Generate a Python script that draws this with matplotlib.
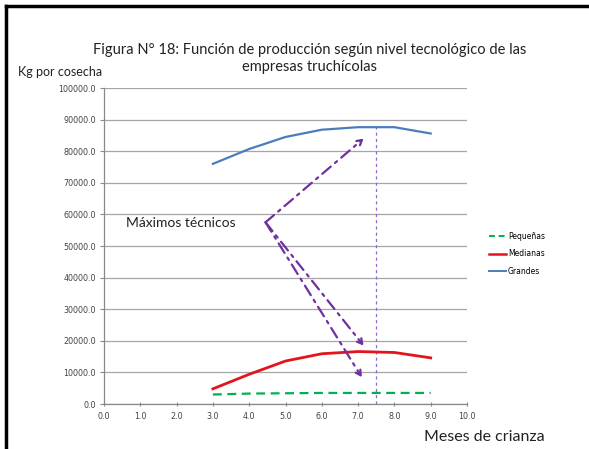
import matplotlib
matplotlib.use("Agg")
import matplotlib.pyplot as plt
from matplotlib.lines import Line2D

plt.rcParams['font.family'] = ['Lato', 'DejaVu Sans']

meses = [3.0, 4.0, 5.0, 6.0, 7.0, 8.0, 9.0]
pequenas = [3000, 3300, 3400, 3500, 3500, 3500, 3500]
medianas = [4800, 9400, 13600, 15900, 16600, 16300, 14600]
grandes = [76000, 80700, 84500, 86800, 87600, 87600, 85600]

x_ticks = [0.0, 1.0, 2.0, 3.0, 4.0, 5.0, 6.0, 7.0, 8.0, 9.0, 10.0]
y_ticks = [0, 10000, 20000, 30000, 40000, 50000, 60000, 70000, 80000, 90000, 100000]

mes_optimo = 7.5
max_grandes = 87600

W, H = 589, 449
fig = plt.figure(figsize=(W / 100, H / 100), dpi=100)
fig.patch.set_facecolor('white')

ax = fig.add_axes([104 / W, 1 - 404 / H, (467 - 104) / W, (404 - 88) / H])

purple = '#7030A0'
ax.plot(meses, pequenas, color='#00B050', lw=1.6, ls=(0, (4, 2.5)), label='Pequeñas', zorder=3)
ax.plot(meses, medianas, color='#E3141C', lw=2.0, label='Medianas', zorder=3)
ax.plot(meses, grandes, color='#4A7EBB', lw=1.6, label='Grandes', zorder=3)

# vertical marker at the technical maximum
ax.plot([mes_optimo, mes_optimo], [0, max_grandes], color='#8E6BC4', lw=0.9,
        ls=(0, (2.5, 2.5)), zorder=2)

# arrows from the label to each curve's maximum
origen = (4.45, 57500)
destinos = [(7.15, 84000), (7.15, 18500), (7.1, 8500)]
for d in destinos:
    ax.annotate('', xy=d, xytext=origen,
                arrowprops=dict(arrowstyle='->,head_length=0.35,head_width=0.2',
                                color=purple, lw=1.6, ls=(0, (5, 2.5, 1.2, 2.5)),
                                shrinkA=0, shrinkB=0), zorder=4)

ax.text(0.6, 57300, 'Máximos técnicos', fontsize=10, color='#222222',
        ha='left', va='center')

ax.set_xlim(0, 10)
ax.set_ylim(0, 100000)
ax.set_xticks(x_ticks)
ax.set_yticks(y_ticks)
ax.set_xticklabels([f'{v:.1f}' for v in x_ticks], family='DejaVu Sans')
ax.set_yticklabels([f'{v:.1f}' for v in y_ticks], family='DejaVu Sans')
ax.tick_params(axis='both', labelsize=5.8, colors='#888888', labelcolor='#444444',
               length=3, width=0.8)
ax.tick_params(axis='x', direction='inout', pad=4)
ax.tick_params(axis='y', direction='out', pad=3)
ax.grid(axis='y', color='#A6A6A6', lw=0.9)
ax.set_axisbelow(True)
for s in ['top', 'right']:
    ax.spines[s].set_visible(False)
for s in ['left', 'bottom']:
    ax.spines[s].set_color('#888888')
    ax.spines[s].set_linewidth(0.9)

handles = [
    Line2D([], [], color='#00B050', lw=1.4, ls=(0, (3, 2))),
    Line2D([], [], color='#E3141C', lw=1.8),
    Line2D([], [], color='#4A7EBB', lw=1.4),
]
fig.legend(handles, ['Pequeñas', 'Medianas', 'Grandes'], loc='center left',
           bbox_to_anchor=(482 / W, 1 - 254 / H), frameon=False, fontsize=5.5,
           handlelength=2.2, handletextpad=0.3, labelspacing=1.1,
           prop={'family': 'DejaVu Sans', 'size': 5.5})

fig.text(310 / W, 1 - 50 / H,
         'Figura N° 18: Función de producción según nivel tecnológico de las',
         fontsize=10.5, ha='center', va='center', color='#222222')
fig.text(310 / W, 1 - 67 / H, 'empresas truchícolas', fontsize=10.5,
         ha='center', va='center', color='#222222')
fig.text(18 / W, 1 - 72 / H, 'Kg por cosecha', fontsize=9, ha='left',
         va='center', color='#222222')
fig.text(545 / W, 1 - 437 / H, 'Meses de crianza', fontsize=11.5, ha='right',
         va='center', color='#222222')

# outer frame (top and left edges)
fig.add_artist(Line2D([6 / W, 6 / W], [0, 1 - 6 / H], transform=fig.transFigure,
                      color='black', lw=2.5))
fig.add_artist(Line2D([6 / W, 1], [1 - 6 / H, 1 - 6 / H], transform=fig.transFigure,
                      color='black', lw=2.5))

fig.savefig('out.png', dpi=100, facecolor='white')
